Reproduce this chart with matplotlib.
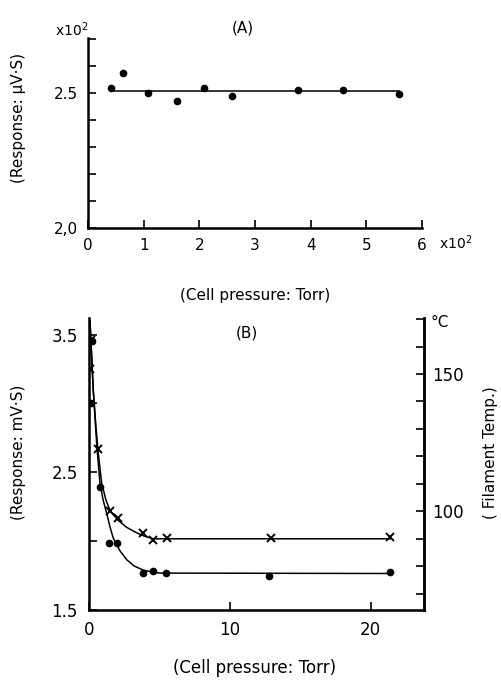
import numpy as np
import matplotlib
matplotlib.use("Agg")
from matplotlib import pyplot as plt

# panel A: response vs cell pressure (x10^2 Torr, x10^2 uV.S)
pressA = [0.41, 0.63, 1.08, 1.60, 2.08, 2.58, 3.77, 4.58, 5.58]
respA = [2.519, 2.574, 2.50, 2.47, 2.52, 2.49, 2.511, 2.511, 2.496]
fitA_x = [0.41, 5.58]
fitA_y = [2.507, 2.507]

# panel B: dots and crosses
pressDots = [0.2, 0.12, 0.78, 1.42, 1.99, 3.84, 4.56, 5.48, 12.8, 21.4]
respDots = [3.45, 3.0, 2.39, 1.99, 1.99, 1.77, 1.78, 1.77, 1.75, 1.775]
pressCross = [0.15, 0.07, 0.65, 1.5, 2.08, 3.84, 4.55, 5.55, 12.9, 21.4]
respCross = [3.46, 3.25, 2.67, 2.22, 2.17, 2.06, 2.01, 2.02, 2.02, 2.03]

# hand drawn curves through the points
curveDots_x = [0.07, 0.3, 0.55, 0.78, 1.0, 1.26, 1.5, 1.73, 2.2, 2.68, 3.2, 3.84, 4.5, 5.05, 21.4]
curveDots_y = [3.6, 3.1, 2.7, 2.42, 2.3, 2.2, 2.1, 2.02, 1.93, 1.865, 1.82, 1.79, 1.775, 1.768, 1.765]
curveCross_x = [0.07, 0.3, 0.5, 0.65, 0.9, 1.2, 1.5, 2.08, 2.68, 3.3, 3.84, 4.55, 5.55, 21.4]
curveCross_y = [3.6, 3.1, 2.82, 2.65, 2.42, 2.3, 2.22, 2.15, 2.10, 2.065, 2.04, 2.017, 2.017, 2.017]

fig = plt.figure(figsize=(5.02, 6.84), dpi=100)
plt.rcParams['font.family'] = ['DejaVu Sans']

spine_w = 1.8
line_w = 1.1

# ---- panel A
axA = fig.add_axes([88/502, 1-228/684, 334/502, 190/684])
axA.plot(fitA_x, fitA_y, color="black", lw=line_w)
axA.plot(pressA, respA, "o", color="black", ms=4.5)
axA.set_xlim(0, 6)
axA.set_ylim(2.0, 2.704)
axA.set_xticks(range(0, 7))
axA.set_xticklabels([str(i) for i in range(0, 7)])
axA.set_yticks(np.arange(2.0, 2.71, 0.1))
axA.set_yticklabels(["2,0", "", "", "", "", "2.5", "", ""])
for s in ["top", "right"]:
    axA.spines[s].set_visible(False)
for s in ["left", "bottom"]:
    axA.spines[s].set_linewidth(spine_w)
axA.tick_params(direction="in", length=6, width=1.2, labelsize=11, pad=7)

fig.text(243/502, 1-28/684, "(A)", ha="center", va="center", fontsize=11)
fig.text(72/502, 1-30/684, r"x10$^{2}$", ha="center", va="center", fontsize=10)
fig.text(456/502, 1-243/684, r"x10$^{2}$", ha="center", va="center", fontsize=10)
fig.text(255/502, 1-295/684, "(Cell pressure: Torr)", ha="center", va="center", fontsize=11)
fig.text(19/502, 1-118/684, "(Response: μV·S)", ha="center", va="center", rotation=90, fontsize=11)

# ---- panel B
axB = fig.add_axes([89/502, 1-610/684, 335/502, 292/684])
axB.plot(curveDots_x, curveDots_y, color="black", lw=line_w)
axB.plot(curveCross_x, curveCross_y, color="black", lw=line_w)
axB.plot(pressDots, respDots, "o", color="black", ms=4.5)
axB.plot(pressCross, respCross, "x", color="black", ms=6, mew=1.4)
axB.set_xlim(0, 23.8)
axB.set_ylim(1.5, 3.62)
axB.set_xticks([0, 10, 20])
axB.set_yticks([1.5, 2.0, 2.5, 3.0, 3.5])
axB.set_yticklabels(["1.5", "", "2.5", "", "3.5"])
axB.spines["top"].set_visible(False)
for s in ["left", "bottom", "right"]:
    axB.spines[s].set_linewidth(spine_w)
axB.tick_params(direction="in", length=6, width=1.2, labelsize=12, pad=8)

axT = axB.twinx()
axT.set_ylim(64, 170.4)
axT.set_yticks(range(70, 171, 10))
axT.set_yticklabels(["150" if t == 150 else "100" if t == 100 else "" for t in range(70, 171, 10)])
axT.spines["top"].set_visible(False)
axT.spines["right"].set_linewidth(spine_w)
axT.tick_params(direction="in", length=6, width=1.2, labelsize=12, pad=6)

fig.text(247/502, 1-333/684, "(B)", ha="center", va="center", fontsize=11)
fig.text(440/502, 1-322/684, "°C", ha="center", va="center", fontsize=11)
fig.text(255/502, 1-668/684, "(Cell pressure: Torr)", ha="center", va="center", fontsize=12)
fig.text(19/502, 1-452/684, "(Response: mV·S)", ha="center", va="center", rotation=90, fontsize=11)
fig.text(491/502, 1-453/684, "( Filament Temp.)", ha="center", va="center", rotation=90, fontsize=11)

fig.savefig("out.png", dpi=100)
